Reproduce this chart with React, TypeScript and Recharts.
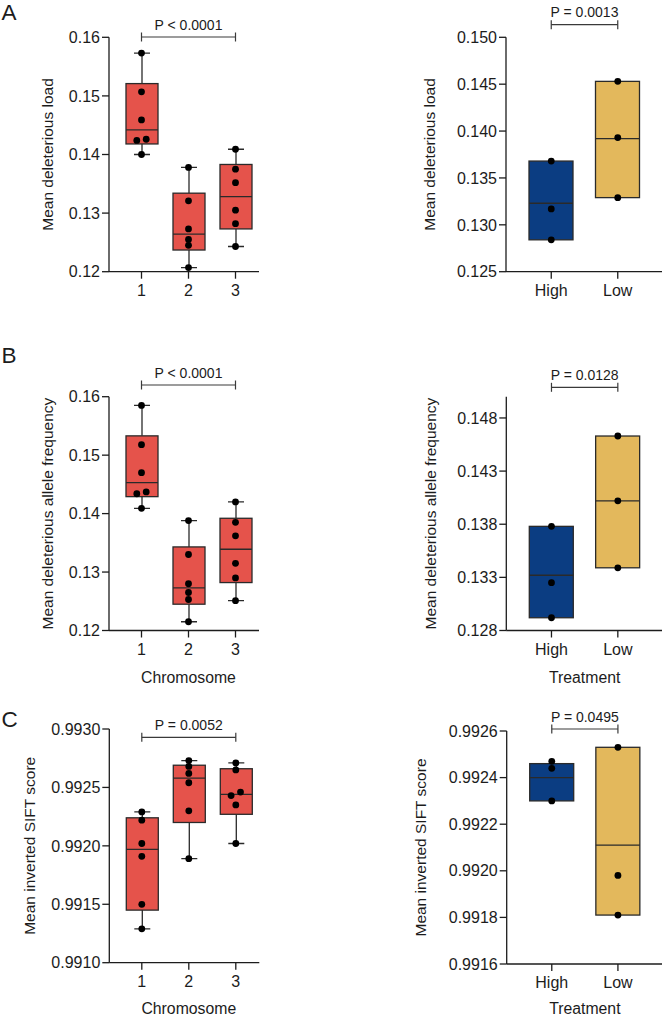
import React from 'react';
import { ComposedChart, Bar, Scatter, XAxis, YAxis, ReferenceLine } from 'recharts';

// ---------- categories ----------
const chromosomes = ['1', '2', '3'];
const treatments = ['High', 'Low'];

// ---------- A: mean deleterious load ----------
const loadChrPoints = [
  [0.1573, 0.1507, 0.1459, 0.1426, 0.1424, 0.14],
  [0.1378, 0.1321, 0.1273, 0.1255, 0.1245, 0.1207],
  [0.1409, 0.1375, 0.1352, 0.1305, 0.1282, 0.1243],
];
// [min, q1, median, q3, max]
const loadChrBox = [
  [0.14, 0.1418, 0.1442, 0.1521, 0.1573],
  [0.1207, 0.1237, 0.1264, 0.1334, 0.1378],
  [0.1243, 0.1273, 0.1328, 0.1383, 0.1409],
];
const loadTrtPoints = [
  [0.1368, 0.1317, 0.1284],
  [0.1453, 0.1393, 0.1329],
];
const loadTrtBox = [
  [0.1284, 0.1284, 0.1323, 0.1368, 0.1368],
  [0.1329, 0.1329, 0.1392, 0.1453, 0.1453],
];

// ---------- B: mean deleterious allele frequency ----------
const freqChrPoints = [
  [0.1585, 0.1518, 0.147, 0.1437, 0.1434, 0.1409],
  [0.1388, 0.133, 0.128, 0.1265, 0.1253, 0.1215],
  [0.142, 0.1385, 0.1362, 0.1315, 0.129, 0.1251],
];
const freqChrBox = [
  [0.1409, 0.1429, 0.1453, 0.1533, 0.1585],
  [0.1215, 0.1245, 0.1273, 0.1343, 0.1388],
  [0.1251, 0.1282, 0.1339, 0.1392, 0.142],
];
const freqTrtPoints = [
  [0.1378, 0.1325, 0.1292],
  [0.1463, 0.1402, 0.1339],
];
const freqTrtBox = [
  [0.1292, 0.1292, 0.1332, 0.1378, 0.1378],
  [0.1339, 0.1339, 0.1402, 0.1463, 0.1463],
];

// ---------- C: mean inverted SIFT score ----------
const siftChrPoints = [
  [0.99229, 0.99222, 0.99202, 0.99191, 0.9915, 0.99129],
  [0.99273, 0.99268, 0.99262, 0.99254, 0.9923, 0.99189],
  [0.99271, 0.99265, 0.99246, 0.99243, 0.99235, 0.99202],
];
const siftChrBox = [
  [0.99129, 0.99145, 0.99197, 0.99224, 0.99229],
  [0.99189, 0.9922, 0.99258, 0.99269, 0.99273],
  [0.99202, 0.99227, 0.99244, 0.99266, 0.99271],
];
const siftTrtPoints = [
  [0.99247, 0.99244, 0.9923],
  [0.99253, 0.99198, 0.99181],
];
const siftTrtBox = [
  [0.9923, 0.9923, 0.9924, 0.99246, 0.99246],
  [0.99181, 0.99181, 0.99211, 0.99253, 0.99253],
];

// ---------- axis ticks ----------
const loadChrTicks = [0.12, 0.13, 0.14, 0.15, 0.16];
const loadTrtTicks = [0.125, 0.13, 0.135, 0.14, 0.145, 0.15];
const freqChrTicks = [0.12, 0.13, 0.14, 0.15, 0.16];
const freqTrtTicks = [0.128, 0.133, 0.138, 0.143, 0.148];
const siftChrTicks = [0.991, 0.9915, 0.992, 0.9925, 0.993];
const siftTrtTicks = [0.9916, 0.9918, 0.992, 0.9922, 0.9924, 0.9926];

// ---------- texts ----------
const pValues = ['P < 0.0001', 'P = 0.0013', 'P < 0.0001', 'P = 0.0128', 'P = 0.0052', 'P = 0.0495'];
const yTitles = ['Mean deleterious load', 'Mean deleterious allele frequency', 'Mean inverted SIFT score'];
const xTitles = ['Chromosome', 'Treatment'];

// ---------- styling ----------
const FONT = '"Liberation Sans", Arial, Helvetica, sans-serif';
const INK = '#1c1c1c';
const RED = '#E5534B';
const NAVY = '#0B3D82';
const GOLD = '#E3B85C';
const EDGE = '#2a2a2a';

function dodge(groups: number[][], span: number, step: number) {
  const out: { x: number; y: number }[] = [];
  groups.forEach((vals, gi) => {
    const sorted = [...vals].sort((a, b) => a - b);
    const offs = sorted.map(() => 0);
    for (let i = 0; i < sorted.length - 1; i++) {
      if (sorted[i + 1] - sorted[i] < span * 0.02 && offs[i] === 0) {
        offs[i] = -step;
        offs[i + 1] = step;
      }
    }
    sorted.forEach((v, i) => out.push({ x: gi + 1 + offs[i], y: v }));
  });
  return out;
}

const makeBoxShape = (fills: string[], capW: number) => (props: any) => {
  const { x, y, width, height, payload, index } = props;
  if (!payload || !payload.stats) return <g />;
  const [mn, q1, md, q3, mx] = payload.stats;
  const top = Math.min(y, y + height);
  const bot = Math.max(y, y + height);
  const k = (bot - top) / (mx - mn);
  const py = (v: number) => bot - (v - mn) * k;
  const cx = x + width / 2;
  const fill = fills[(index ?? 0) % fills.length];
  const sw = 1.3;
  const hasUpper = py(q3) - py(mx) > 0.5;
  const hasLower = py(mn) - py(q1) > 0.5;
  return (
    <g>
      {hasUpper && <line x1={cx} x2={cx} y1={py(mx)} y2={py(q3)} stroke={EDGE} strokeWidth={sw} />}
      {hasLower && <line x1={cx} x2={cx} y1={py(q1)} y2={py(mn)} stroke={EDGE} strokeWidth={sw} />}
      {hasUpper && <line x1={cx - capW / 2} x2={cx + capW / 2} y1={py(mx)} y2={py(mx)} stroke={EDGE} strokeWidth={sw} />}
      {hasLower && <line x1={cx - capW / 2} x2={cx + capW / 2} y1={py(mn)} y2={py(mn)} stroke={EDGE} strokeWidth={sw} />}
      <rect x={x} y={py(q3)} width={width} height={py(q1) - py(q3)} fill={fill} stroke={EDGE} strokeWidth={sw} />
      <line x1={x} x2={x + width} y1={py(md)} y2={py(md)} stroke={EDGE} strokeWidth={sw} />
    </g>
  );
};

const Dot = (p: any) => <circle cx={p.cx} cy={p.cy} r={3.4} fill="#000" />;

const makeBracket = (text: string, dy: number) => (p: any) => {
  const yb = p.y1 + dy;
  const st = { stroke: '#3a3a3a', strokeWidth: 1.2 };
  return (
    <g>
      <line x1={p.x1} x2={p.x2} y1={yb} y2={yb} {...st} />
      <line x1={p.x1} x2={p.x1} y1={yb - 4.5} y2={yb + 4.5} {...st} />
      <line x1={p.x2} x2={p.x2} y1={yb - 4.5} y2={yb + 4.5} {...st} />
      <text x={(p.x1 + p.x2) / 2} y={yb - 7.5} textAnchor="middle" fontSize={14} fill={INK} fontFamily={FONT}>
        {text}
      </text>
    </g>
  );
};

type Rect = { x: number; y: number; w: number; h: number };
type Cfg = {
  chart: Rect;
  plot: Rect;
  cats: string[];
  box: number[][];
  pts: number[][];
  fills: string[];
  domain: [number, number];
  ticks: number[];
  digits: number;
  yTitle: string;
  yTitleOff: number;
  xTitle?: string;
  xTitleOff?: number;
  pText: string;
  pDy: number;
  letter?: string;
  letterY?: number;
  padL: number;
  padR: number;
  barSize: number;
  capW: number;
  step: number;
};

function Panel({ cfg }: { cfg: Cfg }) {
  const { chart, plot, cats, box, pts, fills, domain, ticks, digits } = cfg;
  const rows = cats.map((name, i) => ({ name, range: [box[i][0], box[i][4]], stats: box[i] }));
  const scatter = dodge(pts, domain[1] - domain[0], cfg.step);
  const xAxisH = 30;
  const px = plot.x - chart.x;
  const pyTop = plot.y - chart.y;
  const margin = {
    top: pyTop,
    left: 0,
    right: chart.w - px - plot.w,
    bottom: chart.h - pyTop - plot.h - xAxisH,
  };
  const axisStyle = { stroke: INK, strokeWidth: 1.3 };
  const tickStyle = { fontSize: 16, fill: INK, fontFamily: FONT };
  const bandCenter = px + cfg.padL + (plot.w - cfg.padL - cfg.padR) / 2;
  const axisY = pyTop + plot.h;

  const yLabel = () => {
    const lx = px - cfg.yTitleOff;
    const ly = pyTop + plot.h / 2;
    return (
      <g>
        <text
          x={lx}
          y={ly}
          transform={`rotate(-90, ${lx}, ${ly})`}
          textAnchor="middle"
          fontSize={15.5}
          fill={INK}
          fontFamily={FONT}
        >
          {cfg.yTitle}
        </text>
        {cfg.letter && (
          <text x={-chart.x + 1.5} y={cfg.letterY} fontSize={22.5} fill={INK} fontFamily={FONT}>
            {cfg.letter}
          </text>
        )}
      </g>
    );
  };
  const xLabel = () =>
    cfg.xTitle ? (
      <text
        x={bandCenter}
        y={axisY + (cfg.xTitleOff ?? 52.5)}
        textAnchor="middle"
        fontSize={15.8}
        fill={INK}
        fontFamily={FONT}
      >
        {cfg.xTitle}
      </text>
    ) : (
      <g />
    );

  return (
    <div style={{ position: 'absolute', left: chart.x, top: chart.y, width: chart.w, height: chart.h }}>
      <ComposedChart width={chart.w} height={chart.h} data={rows} margin={margin}>
        <XAxis
          xAxisId="cat"
          dataKey="name"
          type="category"
          padding={{ left: cfg.padL, right: cfg.padR }}
          height={xAxisH}
          tickSize={7}
          tickMargin={6}
          axisLine={axisStyle}
          tickLine={axisStyle}
          tick={tickStyle}
          interval={0}
          label={{ content: xLabel }}
        />
        <XAxis
          xAxisId="num"
          dataKey="x"
          type="number"
          domain={[0.5, cats.length + 0.5]}
          padding={{ left: cfg.padL, right: cfg.padR }}
          allowDataOverflow
          hide
        />
        <YAxis
          dataKey="y"
          type="number"
          domain={domain}
          ticks={ticks}
          allowDataOverflow
          width={px}
          tickSize={7}
          tickMargin={2}
          interval={0}
          tickFormatter={(v: number) => v.toFixed(digits)}
          axisLine={axisStyle}
          tickLine={axisStyle}
          tick={tickStyle}
          label={{ content: yLabel }}
        />
        <Bar
          xAxisId="cat"
          dataKey="range"
          barSize={cfg.barSize}
          shape={makeBoxShape(fills, cfg.capW)}
          isAnimationActive={false}
        />
        <Scatter xAxisId="num" dataKey="y" data={scatter} shape={Dot} isAnimationActive={false} />
        <ReferenceLine
          xAxisId="num"
          segment={[
            { x: 1, y: domain[1] },
            { x: cats.length, y: domain[1] },
          ]}
          ifOverflow="visible"
          shape={makeBracket(cfg.pText, cfg.pDy)}
        />
      </ComposedChart>
    </div>
  );
}

const leftBase = { cats: chromosomes, fills: [RED], padL: 9, padR: 0, barSize: 32, capW: 16, step: 0.1 };
const rightBase = { cats: treatments, fills: [NAVY, GOLD], padL: 12, padR: 11, barSize: 44, capW: 16, step: 0.07 };

const panels: Cfg[] = [
  {
    ...leftBase,
    chart: { x: 0, y: 0, w: 332, h: 330 },
    plot: { x: 109, y: 37.3, w: 150, h: 234.4 },
    box: loadChrBox,
    pts: loadChrPoints,
    domain: [0.12, 0.16],
    ticks: loadChrTicks,
    digits: 2,
    yTitle: yTitles[0],
    yTitleOff: 56.3,
    pText: pValues[0],
    pDy: -0.3,
    letter: 'A',
    letterY: 20,
  },
  {
    ...rightBase,
    chart: { x: 332, y: 0, w: 332, h: 330 },
    plot: { x: 506, y: 37.3, w: 156, h: 234.4 },
    box: loadTrtBox,
    pts: loadTrtPoints,
    domain: [0.125, 0.15],
    ticks: loadTrtTicks,
    digits: 3,
    yTitle: yTitles[0],
    yTitleOff: 70.7,
    pText: pValues[1],
    pDy: -12.6,
  },
  {
    ...leftBase,
    chart: { x: 0, y: 330, w: 332, h: 360 },
    plot: { x: 109, y: 396.7, w: 150, h: 233.8 },
    box: freqChrBox,
    pts: freqChrPoints,
    domain: [0.12, 0.16],
    ticks: freqChrTicks,
    digits: 2,
    yTitle: yTitles[1],
    yTitleOff: 56.3,
    xTitle: xTitles[0],
    pText: pValues[2],
    pDy: -11.7,
    letter: 'B',
    letterY: 33.3,
  },
  {
    ...rightBase,
    chart: { x: 332, y: 330, w: 332, h: 360 },
    plot: { x: 506.3, y: 396.7, w: 155.7, h: 233.8 },
    box: freqTrtBox,
    pts: freqTrtPoints,
    domain: [0.128, 0.15],
    ticks: freqTrtTicks,
    digits: 3,
    yTitle: yTitles[1],
    yTitleOff: 70.5,
    xTitle: xTitles[1],
    pText: pValues[3],
    pDy: -9.4,
  },
  {
    ...leftBase,
    chart: { x: 0, y: 690, w: 332, h: 328 },
    plot: { x: 109.3, y: 729, w: 150, h: 233.7 },
    box: siftChrBox,
    pts: siftChrPoints,
    domain: [0.991, 0.993],
    ticks: siftChrTicks,
    digits: 4,
    yTitle: yTitles[2],
    yTitleOff: 74,
    xTitle: xTitles[0],
    xTitleOff: 51.5,
    pText: pValues[4],
    pDy: 8.3,
    letter: 'C',
    letterY: 37,
  },
  {
    ...rightBase,
    chart: { x: 332, y: 690, w: 332, h: 328 },
    plot: { x: 506.7, y: 731, w: 155.3, h: 233 },
    box: siftTrtBox,
    pts: siftTrtPoints,
    domain: [0.9916, 0.9926],
    ticks: siftTrtTicks,
    digits: 4,
    yTitle: yTitles[2],
    yTitleOff: 81,
    xTitle: xTitles[1],
    xTitleOff: 50,
    pText: pValues[5],
    pDy: -2,
  },
];

export default function App() {
  return (
    <div
      style={{
        position: 'absolute',
        left: 0,
        top: 0,
        width: 664,
        height: 1018,
        background: '#fff',
        fontFamily: FONT,
        overflow: 'hidden',
      }}
    >
      {panels.map((cfg, i) => (
        <Panel key={i} cfg={cfg} />
      ))}
    </div>
  );
}
